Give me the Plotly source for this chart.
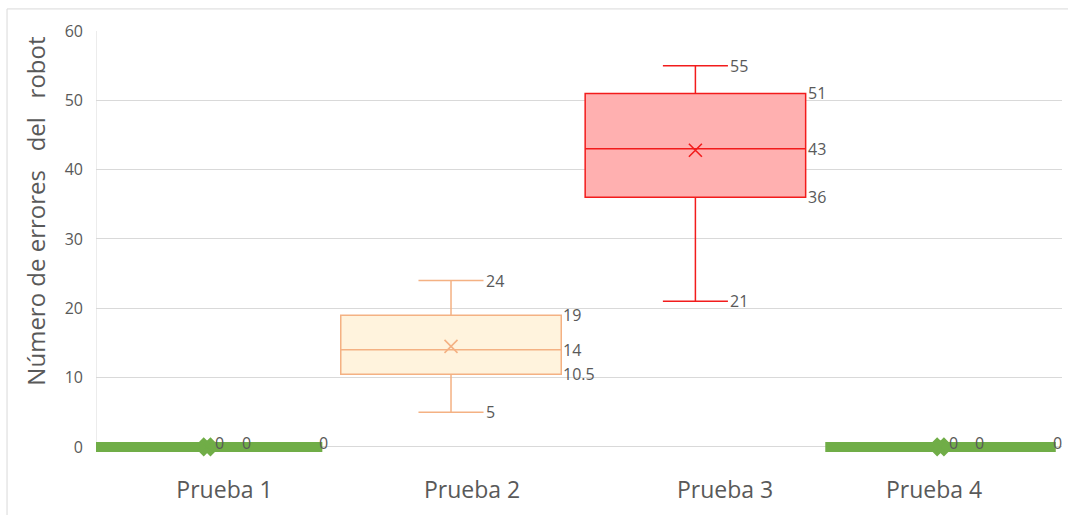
import plotly.graph_objects as go

# Resumen de errores del robot por prueba (estadísticos del diagrama de caja)
categories = ["Prueba 1", "Prueba 2", "Prueba 3", "Prueba 4"]
minimum = [0, 5, 21, 0]
q1 = [0, 10.5, 36, 0]
median = [0, 14, 43, 0]
q3 = [0, 19, 51, 0]
maximum = [0, 24, 55, 0]
mean = [0, 14.5, 42.8, 0]

y_ticks = [0, 10, 20, 30, 40, 50, 60]

# Layout/style (positions on a numeric x axis spanning 0..4)
box_pos = [0.46, 1.47, 2.482, 3.497]
label_pos = [0.532, 1.557, 2.605, 3.47]
box_width = 0.913
whisker_frac = 0.295
line_colors = ["#70AD47", "#F4B183", "#F21C1C", "#70AD47"]
fill_colors = ["#70AD47", "#FFF3DD", "#FFB0B0", "#70AD47"]
line_widths = [10, 1.5, 1.5, 10]
mean_label = [True, False, False, True]

TXT = "#595959"
GRID = "#D9D9D9"
FONT = "Open Sans"
Y_MIN = -1.6  # a little room below zero so thick outlines are not clipped
PX_PER_X = 966 / 4.0  # plot-area pixels per x unit

fig = go.Figure()

for i, cat in enumerate(categories):
    # thick flat outlines get square ends, so widen by the stroke width
    w = box_width + (line_widths[i] / PX_PER_X if line_widths[i] > 5 else 0)
    fig.add_trace(go.Box(
        name=cat,
        x=[box_pos[i]],
        q1=[q1[i]], median=[median[i]], q3=[q3[i]],
        lowerfence=[minimum[i]], upperfence=[maximum[i]],
        width=w,
        whiskerwidth=whisker_frac,
        line=dict(color=line_colors[i], width=line_widths[i]),
        fillcolor=fill_colors[i],
        boxpoints=False,
        showlegend=False,
        hoverinfo="skip",
    ))
    # Mean marker
    thick = line_widths[i] > 5
    fig.add_trace(go.Scatter(
        x=[box_pos[i]], y=[mean[i]], mode="markers",
        marker=dict(
            symbol="x" if thick else "x-thin",
            size=12 if thick else 13,
            color=line_colors[i],
            line=dict(color=line_colors[i], width=4 if thick else 1.6),
        ),
        showlegend=False, hoverinfo="skip", cliponaxis=False,
    ))

# Data labels: whisker values at the cap end, box values at the box edge
annotations = []
for i in range(len(categories)):
    cap_end = box_pos[i] + box_width * whisker_frac / 2
    box_end = box_pos[i] + box_width / 2
    seen = set()
    items = [(cap_end, maximum[i]), (cap_end, minimum[i]),
             (box_end, q3[i]), (box_end, median[i]), (box_end, q1[i])]
    if mean_label[i]:
        items.insert(0, (box_pos[i], mean[i]))
    for k, (xv, yv) in enumerate(items):
        key = (round(xv, 4), yv)
        if key in seen:
            continue
        seen.add(key)
        is_mean = mean_label[i] and k == 0
        annotations.append(dict(
            x=xv, y=yv, xref="x", yref="y",
            text=f"{yv:g}", showarrow=False,
            xanchor="left", yanchor="middle",
            xshift=6 if is_mean else 0,
            yshift=4 if yv == 0 else 0,
            font=dict(family=FONT, size=16, color=TXT),
        ))

# Y-axis title
annotations.append(dict(
    x=-0.0621, y=0.577, xref="paper", yref="paper",
    text="Número de errores\u00a0\u00a0\u00a0del\u00a0\u00a0\u00a0robot",
    textangle=-90, showarrow=False,
    xanchor="center", yanchor="middle",
    font=dict(family=FONT, size=24, color=TXT),
))

fig.update_layout(
    width=1068, height=515,
    margin=dict(l=96, r=6, t=31, b=57),
    paper_bgcolor="white", plot_bgcolor="white",
    annotations=annotations,
    shapes=[
        dict(type="rect", xref="paper", yref="paper",
             x0=-0.0921, x1=1.03, y0=-0.3, y1=1.0517,
             line=dict(color=GRID, width=1), layer="below"),
        # left axis line from 0 to 60
        dict(type="line", xref="x", yref="y", x0=0, x1=0, y0=0, y1=60,
             line=dict(color=GRID, width=1), layer="below"),
    ],
    xaxis=dict(
        range=[0, 4], tickmode="array",
        tickvals=label_pos, ticktext=categories,
        showgrid=False, zeroline=False, showline=False,
        ticks="", ticklabelstandoff=16,
        tickfont=dict(family=FONT, size=23, color=TXT),
    ),
    yaxis=dict(
        range=[Y_MIN, 60], tickmode="array", tickvals=y_ticks,
        showgrid=True, gridcolor=GRID, gridwidth=1,
        zeroline=False, showline=False,
        ticks="", ticklabelstandoff=12,
        tickfont=dict(family=FONT, size=16, color=TXT),
    ),
)

fig.write_html("out.html")
